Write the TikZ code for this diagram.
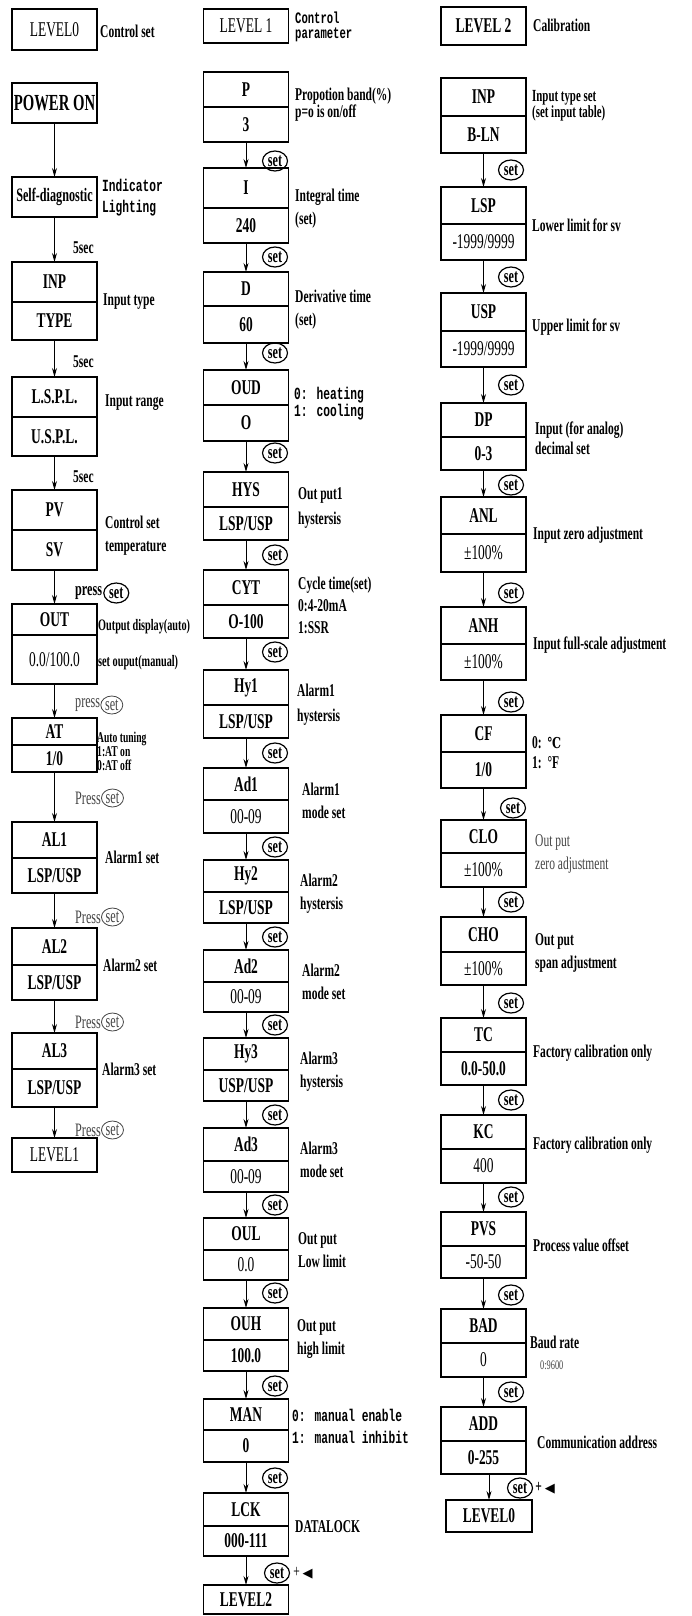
\documentclass[tikz,border=0pt]{standalone}
\usepackage{fontspec}
\setmainfont{Liberation Serif}[FakeStretch=0.64]
\newfontfamily\narrowmono{Liberation Mono}[FakeStretch=0.66]
\newfontfamily\symbfont{DejaVu Sans}
\newfontfamily\serifsym{DejaVu Serif}[FakeStretch=0.75]
\usepackage{tikz}
\usetikzlibrary{positioning, arrows.meta, shapes.geometric}
\definecolor{faint}{HTML}{444444}

\begin{document}
\begin{tikzpicture}[x=1pt, y=-1pt,
  cell/.style={draw, line width=1.8pt, minimum width=85pt, inner sep=0pt, outer sep=0pt, font=\fontsize{21}{22}\selectfont\bfseries},
  lcell/.style={cell, font=\fontsize{21}{22}\selectfont},
  flow/.style={line width=1pt, -{Stealth[length=9pt, width=5pt]}},
  key/.style={ellipse, draw, line width=1.2pt, inner sep=0pt, minimum width=25pt, minimum height=20pt, font=\fontsize{19}{19}\selectfont\bfseries},
  lightkey/.style={ellipse, draw=faint, text=faint, line width=0.8pt, inner sep=0pt, minimum width=22pt, minimum height=18pt, font=\fontsize{19}{19}\selectfont},
  lbl/.style={anchor=west, align=left, inner sep=0pt, font=\fontsize{18}{23}\selectfont\bfseries},
  mono/.style={lbl, font=\fontsize{17}{21}\selectfont\narrowmono\bfseries},
  lightlbl/.style={lbl, text=faint, font=\fontsize{18}{23}\selectfont}]
  \useasboundingbox (0,0) rectangle (692,1616);

  % level 0: control set
  \node[lcell, minimum height=41pt] (lvzero) at (54.5,29.5) {LEVEL0};
  \node[lbl] (lvzerol) at (100,31) {Control set};
  \node[cell, minimum height=40pt, font=\fontsize{23}{23}\selectfont\bfseries] (pwr) at (54.5,103) {POWER ON};
  \node[cell, minimum height=40pt, font=\fontsize{19}{19}\selectfont\bfseries] (diag) at (54.5,197) {Self-diagnostic};
  \node[mono] (diagl) at (102,198) {Indicator\\Lighting};
  \node[lbl] (seca) at (73,248) {5sec};
  \node[cell, minimum height=40pt] (inp) at (54.5,282) {INP};
  \node[cell, minimum height=38pt, below=0pt of inp] (inpv) {TYPE};
  \node[lbl] (inpl) at (103,302) {Input type};
  \node[lbl] (secb) at (73,362) {5sec};
  \node[cell, minimum height=40pt] (rng) at (54.5,397) {L.S.P.L.};
  \node[cell, minimum height=39pt, below=0pt of rng] (rngv) {U.S.P.L.};
  \node[lbl] (rngl) at (105,403) {Input range};
  \node[lbl] (secc) at (73,477) {5sec};
  \node[cell, minimum height=40pt] (pv) at (54.5,510) {PV};
  \node[cell, minimum height=40pt, below=0pt of pv] (pvv) {SV};
  \node[lbl] (pvl) at (105,536) {Control set\\temperature};
  \node[lbl, font=\fontsize{19}{19}\selectfont\bfseries] (pra) at (75,593) {press};
  \node[key, right=1pt of pra] (pka) {set};
  \node[cell, minimum height=31pt] (out) at (54.5,619.5) {OUT};
  \node[lcell, minimum height=49pt, below=0pt of out] (outv) {0.0/100.0};
  \node[lbl, font=\fontsize{16}{16}\selectfont\bfseries] (outl) at (98,627) {Output display(auto)};
  \node[lbl, font=\fontsize{16}{16}\selectfont\bfseries] (outvl) at (98,663) {set ouput(manual)};
  \node[lightlbl, font=\fontsize{19}{19}\selectfont] (prb) at (75,705) {press};
  \node[lightkey, right=0pt of prb] (pkb) {set};
  \node[cell, minimum height=27pt] (tune) at (54.5,731.5) {AT};
  \node[cell, minimum height=27pt, below=0pt of tune] (tunev) {1/0};
  \node[lbl, font=\fontsize{15}{14}\selectfont\bfseries] (tunel) at (97,751) {Auto tuning\\1:AT on\\0:AT off};
  \node[lightlbl, font=\fontsize{19}{19}\selectfont] (prc) at (75,798) {Press};
  \node[lightkey, right=0pt of prc] (pkc) {set};
  \node[cell, minimum height=36pt] (ala) at (54.5,840) {AL1};
  \node[cell, minimum height=35pt, below=0pt of ala] (alav) {LSP/USP};
  \node[lbl] (alal) at (105,857) {Alarm1 set};
  \node[lightlbl, font=\fontsize{19}{19}\selectfont] (prd) at (75,917) {Press};
  \node[lightkey, right=0pt of prd] (pkd) {set};
  \node[cell, minimum height=37pt] (alb) at (54.5,946.5) {AL2};
  \node[cell, minimum height=35pt, below=0pt of alb] (albv) {LSP/USP};
  \node[lbl] (albl) at (103,965) {Alarm2 set};
  \node[lightlbl, font=\fontsize{19}{19}\selectfont] (pre) at (75,1022) {Press};
  \node[lightkey, right=0pt of pre] (pke) {set};
  \node[cell, minimum height=36pt] (alc) at (54.5,1051) {AL3};
  \node[cell, minimum height=38pt, below=0pt of alc] (alcv) {LSP/USP};
  \node[lbl] (alcl) at (102,1069) {Alarm3 set};
  \node[lightlbl, font=\fontsize{19}{19}\selectfont] (prf) at (75,1130) {Press};
  \node[lightkey, right=0pt of prf] (pkf) {set};
  \node[lcell, minimum height=34pt] (lvone) at (54.5,1155) {LEVEL1};
  \draw[flow] (pwr) -- (diag);
  \draw[flow] (diag) -- (inp);
  \draw[flow] (inpv) -- (rng);
  \draw[flow] (rngv) -- (pv);
  \draw[flow] (pvv) -- (out);
  \draw[flow] (outv) -- (tune);
  \draw[flow] (tunev) -- (ala);
  \draw[flow] (alav) -- (alb);
  \draw[flow] (albv) -- (alc);
  \draw[flow] (alcv) -- (lvone);

  % level 1: control parameter
  \node[lcell, minimum height=34pt] (lvonehd) at (246,26) {LEVEL 1};
  \node[mono, font=\fontsize{16}{15}\selectfont\narrowmono\bfseries] (lvonel) at (295,27) {Control\\parameter};
  \node[cell, minimum height=35pt] (pb) at (246,89.5) {P};
  \node[cell, minimum height=35pt, below=0pt of pb] (pbv) {3};
  \node[lbl, font=\fontsize{18}{17}\selectfont\bfseries] (pbl) at (295,105) {Propotion band(\%)\\p=o is on/off};
  \node[key] (kba) at (275,161) {set};
  \node[cell, minimum height=40pt] (it) at (246,188) {I};
  \node[cell, minimum height=35pt, below=0pt of it] (itv) {240};
  \node[lbl] (itl) at (295,208.5) {Integral time\\(set)};
  \node[key] (kbb) at (275,257) {set};
  \node[cell, minimum height=34pt] (dt) at (246,289) {D};
  \node[cell, minimum height=37pt, below=0pt of dt] (dtv) {60};
  \node[lbl] (dtl) at (295,309.5) {Derivative time\\(set)};
  \node[key] (kbc) at (275,353) {set};
  \node[cell, minimum height=35pt] (oud) at (246,387.5) {OUD};
  \node[cell, minimum height=36pt, below=0pt of oud] (oudv) {O};
  \node[mono, font=\fontsize{17}{17}\selectfont\narrowmono\bfseries] (oudl) at (294,403.5) {0: heating\\1: cooling};
  \node[key] (kbd) at (275,453) {set};
  \node[cell, minimum height=35pt] (hys) at (246,489.5) {HYS};
  \node[cell, minimum height=33pt, below=0pt of hys] (hysv) {LSP/USP};
  \node[lbl, font=\fontsize{18}{25}\selectfont\bfseries] (hysl) at (298,507.5) {Out put1\\hystersis};
  \node[key] (kbe) at (275,555) {set};
  \node[cell, minimum height=35pt] (cyt) at (246,587.5) {CYT};
  \node[cell, minimum height=33pt, below=0pt of cyt] (cytv) {O-100};
  \node[lbl, font=\fontsize{18}{22}\selectfont\bfseries] (cytl) at (298,605) {Cycle time(set)\\0:4-20mA\\1:SSR};
  \node[key] (kbf) at (275,652) {set};
  \node[cell, minimum height=35pt] (hya) at (246,687.5) {Hy1};
  \node[cell, minimum height=33pt, below=0pt of hya] (hyav) {LSP/USP};
  \node[lbl, font=\fontsize{18}{25}\selectfont\bfseries] (hyal) at (297,704.5) {Alarm1\\hystersis};
  \node[key] (kbg) at (275,753) {set};
  \node[cell, minimum height=32pt] (ada) at (246,784) {Ad1};
  \node[lcell, minimum height=33pt, below=0pt of ada] (adav) {00-09};
  \node[lbl] (adal) at (302,801) {Alarm1\\mode set};
  \node[key] (kbh) at (275,847) {set};
  \node[cell, minimum height=32pt] (hyb) at (246,876) {Hy2};
  \node[cell, minimum height=31pt, below=0pt of hyb] (hybv) {LSP/USP};
  \node[lbl] (hybl) at (300,893.5) {Alarm2\\hystersis};
  \node[key] (kbi) at (275,937) {set};
  \node[cell, minimum height=32pt] (adb) at (246,966) {Ad2};
  \node[lcell, minimum height=30pt, below=0pt of adb] (adbv) {00-09};
  \node[lbl] (adbl) at (302,981.5) {Alarm2\\mode set};
  \node[key] (kbj) at (275,1025) {set};
  \node[cell, minimum height=32pt] (hyc) at (246,1054) {Hy3};
  \node[cell, minimum height=31pt, below=0pt of hyc] (hycv) {USP/USP};
  \node[lbl] (hycl) at (300,1071.5) {Alarm3\\hystersis};
  \node[key] (kbk) at (275,1115) {set};
  \node[cell, minimum height=33pt] (adc) at (246,1144.5) {Ad3};
  \node[lcell, minimum height=31pt, below=0pt of adc] (adcv) {00-09};
  \node[lbl] (adcl) at (300,1160) {Alarm3\\mode set};
  \node[key] (kbl) at (275,1205) {set};
  \node[cell, minimum height=32pt] (oul) at (246,1234) {OUL};
  \node[lcell, minimum height=30pt, below=0pt of oul] (oulv) {0.0};
  \node[lbl] (oull) at (298,1250) {Out put\\Low limit};
  \node[key] (kbm) at (275,1293) {set};
  \node[cell, minimum height=32pt] (ouh) at (246,1324) {OUH};
  \node[cell, minimum height=31pt, below=0pt of ouh] (ouhv) {100.0};
  \node[lbl] (ouhl) at (297,1339.5) {Out put\\high limit};
  \node[key] (kbn) at (275,1386) {set};
  \node[cell, minimum height=31pt] (man) at (246,1414.5) {MAN};
  \node[cell, minimum height=32pt, below=0pt of man] (manv) {0};
  \node[mono, font=\fontsize{17}{22}\selectfont\narrowmono\bfseries] (manl) at (292,1426) {0: manual enable\\1: manual inhibit};
  \node[key] (kbo) at (275,1478) {set};
  \node[cell, minimum height=33pt] (lck) at (246,1509.5) {LCK};
  \node[cell, minimum height=30pt, below=0pt of lck] (lckv) {000-111};
  \node[lbl] (lckl) at (295,1527) {DATALOCK};
  \node[key] (kbp) at (277,1573) {set};
  \node[lbl, font=\fontsize{18}{18}\selectfont, right=3pt of kbp] (plb) {+ {\symbfont\fontsize{13}{13}\selectfont ◀}};
  \node[cell, minimum height=29pt] (lvtwo) at (246,1599.5) {LEVEL2};
  \draw[flow] (pbv) -- (it);
  \draw[flow] (itv) -- (dt);
  \draw[flow] (dtv) -- (oud);
  \draw[flow] (oudv) -- (hys);
  \draw[flow] (hysv) -- (cyt);
  \draw[flow] (cytv) -- (hya);
  \draw[flow] (hyav) -- (ada);
  \draw[flow] (adav) -- (hyb);
  \draw[flow] (hybv) -- (adb);
  \draw[flow] (adbv) -- (hyc);
  \draw[flow] (hycv) -- (adc);
  \draw[flow] (adcv) -- (oul);
  \draw[flow] (oulv) -- (ouh);
  \draw[flow] (ouhv) -- (man);
  \draw[flow] (manv) -- (lck);
  \draw[flow] (lckv) -- (lvtwo);

  % level 2: calibration
  \node[cell, minimum height=38pt] (lvtwohd) at (483.5,26) {LEVEL 2};
  \node[lbl] (lvtwol) at (533,25) {Calibration};
  \node[cell, minimum height=38pt] (cinp) at (483.5,97) {INP};
  \node[cell, minimum height=37pt, below=0pt of cinp] (cinpv) {B-LN};
  \node[lbl, font=\fontsize{17}{16}\selectfont\bfseries] (cinpl) at (532,105.5) {Input type set\\(set input table)};
  \node[key] (kca) at (511,170) {set};
  \node[cell, minimum height=37pt] (lsp) at (483.5,205.5) {LSP};
  \node[lcell, minimum height=36pt, below=0pt of lsp] (lspv) {-1999/9999};
  \node[lbl] (lspl) at (532,225) {Lower limit for sv};
  \node[key] (kcb) at (511,277) {set};
  \node[cell, minimum height=38pt] (usp) at (483.5,312) {USP};
  \node[lcell, minimum height=36pt, below=0pt of usp] (uspv) {-1999/9999};
  \node[lbl] (uspl) at (532,327) {Upper limit for sv};
  \node[key] (kcc) at (511,385) {set};
  \node[cell, minimum height=34pt] (dp) at (483.5,420) {DP};
  \node[cell, minimum height=33pt, below=0pt of dp] (dpv) {0-3};
  \node[lbl, font=\fontsize{18}{20}\selectfont\bfseries] (dpl) at (535,438) {Input (for analog)\\decimal set};
  \node[key] (kcd) at (511,485) {set};
  \node[cell, minimum height=37pt] (anl) at (483.5,515.5) {ANL};
  \node[lcell, minimum height=38pt, below=0pt of anl] (anlv) {±100\%};
  \node[lbl] (anll) at (533,535) {Input zero adjustment};
  \node[key] (kce) at (511,593) {set};
  \node[cell, minimum height=37pt] (anh) at (483.5,625.5) {ANH};
  \node[lcell, minimum height=36pt, below=0pt of anh] (anhv) {±100\%};
  \node[lbl] (anhl) at (533,645) {Input full-scale adjustment};
  \node[key] (kcf) at (511,702) {set};
  \node[cell, minimum height=37pt] (cf) at (483.5,733.5) {CF};
  \node[cell, minimum height=36pt, below=0pt of cf] (cfv) {1/0};
  \node[lbl, font=\fontsize{18}{20}\selectfont\bfseries] (cfl) at (532,753) {0:\ \ {\serifsym\fontsize{15}{15}\selectfont ℃}\\1:\ \ °F};
  \node[key] (kcg) at (513,808) {set};
  \node[cell, minimum height=33pt] (clo) at (483.5,836.5) {CLO};
  \node[lcell, minimum height=34pt, below=0pt of clo] (clov) {±100\%};
  \node[lightlbl] (clol) at (535,853.5) {Out put\\zero adjustment};
  \node[key] (kch) at (511,902) {set};
  \node[cell, minimum height=35pt] (cho) at (483.5,934.5) {CHO};
  \node[lcell, minimum height=33pt, below=0pt of cho] (chov) {±100\%};
  \node[lbl] (chol) at (535,952.5) {Out put\\span adjustment};
  \node[key] (kci) at (511,1003) {set};
  \node[cell, minimum height=34pt] (tc) at (483.5,1035) {TC};
  \node[cell, minimum height=33pt, below=0pt of tc] (tcv) {0.0-50.0};
  \node[lbl] (tcl) at (533,1053) {Factory calibration only};
  \node[key] (kcj) at (511,1100) {set};
  \node[cell, minimum height=34pt] (kc) at (483.5,1132) {KC};
  \node[lcell, minimum height=34pt, below=0pt of kc] (kcv) {400};
  \node[lbl] (kcl) at (533,1145) {Factory calibration only};
  \node[key] (kck) at (511,1197) {set};
  \node[cell, minimum height=34pt] (pvs) at (483.5,1229) {PVS};
  \node[lcell, minimum height=32pt, below=0pt of pvs] (pvsv) {-50-50};
  \node[lbl] (pvsl) at (533,1245) {Process value offset};
  \node[key] (kcl2) at (511,1295) {set};
  \node[cell, minimum height=34pt] (bad) at (483.5,1326) {BAD};
  \node[lcell, minimum height=34pt, below=0pt of bad] (badv) {0};
  \node[lbl] (badl) at (530,1342) {Baud rate};
  \node[lightlbl, font=\fontsize{13}{13}\selectfont] (badvl) at (540,1365) {0:9600};
  \node[key] (kcm) at (511,1392) {set};
  \node[cell, minimum height=34pt] (addr) at (483.5,1424) {ADD};
  \node[cell, minimum height=33pt, below=0pt of addr] (addrv) {0-255};
  \node[lbl] (addrl) at (537,1442) {Communication address};
  \node[key] (kcn) at (520,1488) {set};
  \node[lbl, font=\fontsize{18}{18}\selectfont\bfseries, right=2pt of kcn] (plc) {+ {\symbfont\fontsize{13}{13}\selectfont ◀}};
  \node[cell, minimum height=32pt, minimum width=86pt] (lvzeroe) at (489,1516) {LEVEL0};
  \draw[flow] (cinpv) -- (lsp);
  \draw[flow] (lspv) -- (usp);
  \draw[flow] (uspv) -- (dp);
  \draw[flow] (dpv) -- (anl);
  \draw[flow] (anlv) -- (anh);
  \draw[flow] (anhv) -- (cf);
  \draw[flow] (cfv) -- (clo);
  \draw[flow] (clov) -- (cho);
  \draw[flow] (chov) -- (tc);
  \draw[flow] (tcv) -- (kc);
  \draw[flow] (kcv) -- (pvs);
  \draw[flow] (pvsv) -- (bad);
  \draw[flow] (badv) -- (addr);
  \draw[flow] (lvzeroe.north |- addrv.south) -- (lvzeroe);
\end{tikzpicture}
\end{document}
